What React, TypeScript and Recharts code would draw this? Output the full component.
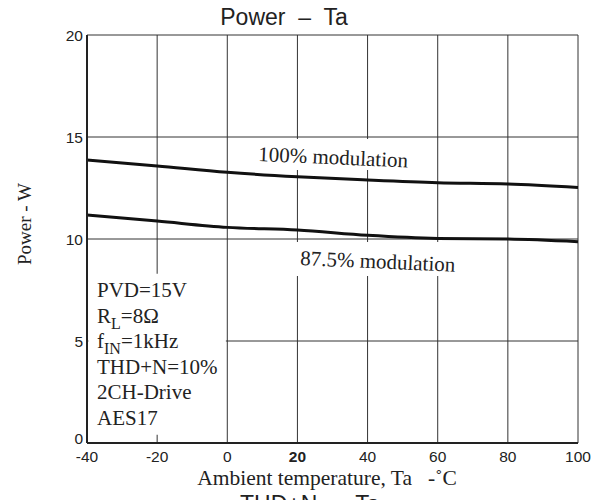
import React from "react";
import {
  LineChart,
  Line,
  XAxis,
  YAxis,
  CartesianGrid,
  ReferenceArea,
} from "recharts";

const temps = [-40, -20, 0, 20, 40, 60, 80, 100];
const mod100 = [13.87, 13.58, 13.27, 13.05, 12.89, 12.76, 12.7, 12.53];
const mod875 = [11.18, 10.88, 10.57, 10.44, 10.18, 10.03, 10.0, 9.87];
const xTicks = [-40, -20, 0, 20, 40, 60, 80, 100];
const yTicks = [0, 5, 10, 15, 20];

const data = temps.map((t, i) => ({ t, m100: mod100[i], m875: mod875[i] }));

const SANS = "'Liberation Sans', Arial, sans-serif";
const SERIF = "'Liberation Serif', 'Times New Roman', serif";

const XTick = (props: any) => {
  const { x, y, payload } = props;
  return (
    <text
      x={x}
      y={y}
      dy="0.71em"
      textAnchor="middle"
      fontFamily={SANS}
      fontSize={15.5}
      fontWeight={payload.value === 20 ? "bold" : "normal"}
      fill="#222"
    >
      {payload.value}
    </text>
  );
};

// the 0 label sits a little above the axis in the original
const YTick = (props: any) => {
  const { x, y, payload } = props;
  return (
    <text
      x={x + 2}
      y={payload.value === 0 ? y - 5 : y}
      dy="0.355em"
      textAnchor="end"
      fontFamily={SANS}
      fontSize={15.5}
      fill="#222"
    >
      {payload.value}
    </text>
  );
};

export default function App() {
  return (
    <div style={{ position: "absolute", left: 0, top: 0, width: 606, height: 500, background: "#fff", overflow: "hidden" }}>
      <LineChart
        width={606}
        height={500}
        data={data}
        margin={{ top: 35, right: 28, bottom: 27, left: 27 }}
      >
        <CartesianGrid stroke="#333" strokeWidth={1} ticks={xTicks} />
        <XAxis
          dataKey="t"
          type="number"
          domain={[-40, 100]}
          ticks={xTicks}
          height={30}
          tickLine={false}
          axisLine={{ stroke: "#222", strokeWidth: 2 }}
          tick={<XTick />}
        />
        <YAxis
          type="number"
          domain={[0, 20]}
          ticks={yTicks}
          width={60}
          tickLine={false}
          tickMargin={0}
          axisLine={{ stroke: "#222", strokeWidth: 2 }}
          tick={<YTick />}
        />
        <ReferenceArea x1={-39.6} x2={-0.4} y1={0.4} y2={8.3} fill="#fff" fillOpacity={1} stroke="none" />
        <ReferenceArea x1={6.5} x2={53.5} y1={13.38} y2={14.9} fill="#fff" fillOpacity={1} stroke="none" />
        <ReferenceArea x1={19.3} x2={66.4} y1={8.19} y2={9.85} fill="#fff" fillOpacity={1} stroke="none" />
        <Line
          type="monotone"
          dataKey="m100"
          stroke="#111"
          strokeWidth={3}
          dot={false}
          isAnimationActive={false}
        />
        <Line
          type="monotone"
          dataKey="m875"
          stroke="#111"
          strokeWidth={3}
          dot={false}
          isAnimationActive={false}
        />
      </LineChart>
      <svg
        width={606}
        height={500}
        style={{ position: "absolute", left: 0, top: 0, pointerEvents: "none" }}
      >
        <text x={284} y={25} textAnchor="middle" fontFamily={SANS} fontSize={23} fill="#222" style={{ whiteSpace: "pre" }}>
          {"Power  –  Ta"}
        </text>
        <text
          transform="translate(31,224) rotate(-90)"
          textAnchor="middle"
          fontFamily={SERIF}
          fontSize={19}
          fill="#222"
        >
          Power - W
        </text>
        <text x={327} y={485} textAnchor="middle" fontFamily={SERIF} fontSize={21.5} fill="#222" style={{ whiteSpace: "pre" }}>
          {"Ambient temperature, Ta   -˚C"}
        </text>
        <text x={240} y={512} fontFamily={SANS} fontSize={23} fill="#222" style={{ whiteSpace: "pre" }}>
          {"THD+N  –  Ta"}
        </text>
        <text transform="translate(258,161) rotate(2.5)" fontFamily={SERIF} fontSize={21} fill="#222">
          100% modulation
        </text>
        <text transform="translate(300,265) rotate(2.5)" fontFamily={SERIF} fontSize={21} fill="#222">
          87.5% modulation
        </text>
        <g fontFamily={SERIF} fontSize={21} fill="#222">
          <text x={97} y={297}>PVD=15V</text>
          <text x={97} y={322.5}>
            R<tspan fontSize={16} dy={6}>L</tspan>
            <tspan dy={-6}>=8Ω</tspan>
          </text>
          <text x={97} y={348}>
            f<tspan fontSize={16} dy={6}>IN</tspan>
            <tspan dy={-6}>=1kHz</tspan>
          </text>
          <text x={97} y={373.5}>THD+N=10%</text>
          <text x={97} y={399}>2CH-Drive</text>
          <text x={97} y={424.5}>AES17</text>
        </g>
      </svg>
    </div>
  );
}
